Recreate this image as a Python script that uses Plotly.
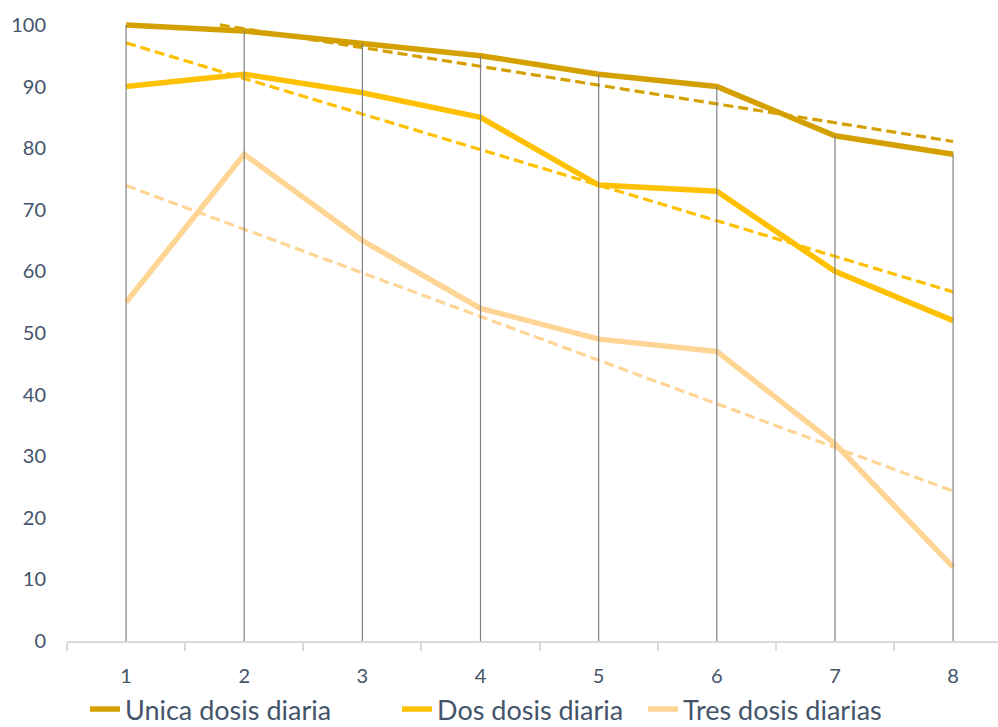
import numpy as np
import plotly.graph_objects as go

# Doses over eight periods (percent)
periods = [1, 2, 3, 4, 5, 6, 7, 8]
unica = [100, 99, 97, 95, 92, 90, 82, 79]
dos = [90, 92, 89, 85, 74, 73, 60, 52]
tres = [55, 79, 65, 54, 49, 47, 32, 12]

series_names = ["Unica dosis diaria", "Dos dosis diaria", "Tres dosis diarias"]
series_values = [unica, dos, tres]
series_colors = ["#D4A000", "#FFC000", "#FFD596"]
legend_ids = ["legend", "legend2", "legend3"]
legend_x = [0.0193, 0.3545, 0.6187]

Y_MAX = 100
FONT = "Lato, 'Open Sans', sans-serif"
TEXT_COLOR = "#44546A"

fig = go.Figure()

# Solid series lines, one legend entry each
for name, vals, color, lg in zip(series_names, series_values, series_colors, legend_ids):
    fig.add_trace(go.Scatter(
        x=periods, y=vals, name=name, mode="lines", legend=lg,
        line=dict(color=color, width=5.5),
    ))

# Linear trend lines (least squares), kept inside the 0-100 scale
x_arr = np.array(periods, dtype=float)
for vals, color in zip(series_values, series_colors):
    slope, intercept = np.polyfit(x_arr, np.array(vals, dtype=float), 1)
    x0 = x_arr[0]
    if slope * x0 + intercept > Y_MAX and slope < 0:
        x0 = (Y_MAX - intercept) / slope
    xs = np.array([x0, x_arr[-1]])
    fig.add_trace(go.Scatter(
        x=xs, y=slope * xs + intercept, mode="lines", showlegend=False,
        hoverinfo="skip", line=dict(color=color, width=3.2, dash="10px,5px"),
    ))

# Drop lines from the highest value of each period to the axis
top = np.max(np.array(series_values), axis=0)
drop_x, drop_y = [], []
for p, t in zip(periods, top):
    drop_x += [p, p, None]
    drop_y += [0, float(t), None]
fig.add_trace(go.Scatter(
    x=drop_x, y=drop_y, mode="lines", showlegend=False, hoverinfo="skip",
    line=dict(color="#808080", width=1.2),
))

legend_style = dict(
    orientation="h", xanchor="left", y=-0.1103, yanchor="middle",
    font=dict(size=27, color=TEXT_COLOR, family=FONT), itemwidth=30,
    bgcolor="rgba(0,0,0,0)",
)

fig.update_layout(
    width=998, height=727,
    margin=dict(l=67, r=0, t=20, b=86, autoexpand=False),
    plot_bgcolor="white", paper_bgcolor="white",
    font=dict(family=FONT, color=TEXT_COLOR, size=20),
    legend=dict(x=legend_x[0], **legend_style),
    legend2=dict(x=legend_x[1], **legend_style),
    legend3=dict(x=legend_x[2], **legend_style),
    showlegend=True,
)

fig.update_xaxes(
    range=[0.5, 8.38], tickvals=periods, ticktext=[str(p) for p in periods],
    ticks="", showgrid=False, zeroline=False,
    showline=True, linecolor="#D9D9D9", linewidth=1.5,
    ticklabelstandoff=16,
    minor=dict(tickvals=[p - 0.5 for p in periods] + [periods[-1] + 0.5],
               ticks="outside", ticklen=8, tickcolor="#D9D9D9", tickwidth=1.5,
               showgrid=False),
    tickfont=dict(size=20, color=TEXT_COLOR),
)
fig.update_yaxes(
    range=[0, 100.8], tickvals=list(range(0, 101, 10)),
    showgrid=False, zeroline=False, showline=False, ticks="",
    ticklabelstandoff=20,
    tickfont=dict(size=20, color=TEXT_COLOR),
)

fig.write_html("out.html")
